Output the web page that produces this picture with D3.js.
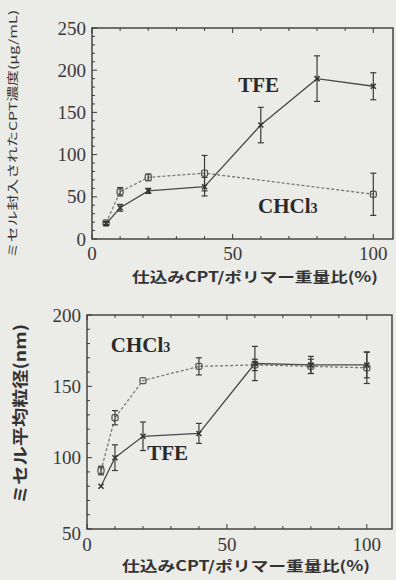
<!DOCTYPE html>
<html><head><meta charset="utf-8">
<script src="https://cdn.jsdelivr.net/npm/d3@7"></script>
<style>
html,body{margin:0;padding:0;background:#ebebe8;}
svg{display:block;}
</style></head>
<body>
<script>
const xValues = [5, 10, 20, 40, 60, 80, 100];
// Top chart: micelle-encapsulated CPT concentration (µg/mL)
const topTFE = [18, 37, 57, 62, 135, 190, 181];
const topTFEErr = [2, 4, 3, 11, 21, 27, 16];
const topCHClX = [5, 10, 20, 40, 100];
const topCHCl = [19, 56, 73, 78, 53];
const topCHClErr = [2, 5, 4, 21, 25];
// Bottom chart: mean micelle particle diameter (nm)
const botTFE = [80, 100, 115, 117, 166, 165, 165];
const botTFEErr = [1, 9, 10, 7, 12, 6, 9];
const botCHCl = [91, 128, 154, 164, 165, 164, 163];
const botCHClErr = [3, 5, 1, 6, 4, 5, 11];
const topYTicks = [0, 50, 100, 150, 200, 250];
const botYTicks = [50, 100, 150, 200];
const xTicks = [0, 50, 100];

const W = 396, H = 580;
const svg = d3.select("body").append("svg").attr("width", W).attr("height", H);
svg.append("rect").attr("width", W).attr("height", H).attr("fill", "#ebebe8");

const serif = "'Liberation Serif','DejaVu Serif',serif";
const gothic = "'Noto Sans CJK JP','Noto Sans',sans-serif";
const ink = "#3a3a3a";

function panel(cfg) {
  const x = d3.scaleLinear().domain([0, cfg.xMax]).range([cfg.left, cfg.right]);
  const y = d3.scaleLinear().domain(cfg.yDomain).range([cfg.bottom, cfg.top]);
  const g = svg.append("g");
  g.append("rect").attr("x", cfg.left).attr("y", cfg.top)
    .attr("width", cfg.right - cfg.left).attr("height", cfg.bottom - cfg.top)
    .attr("fill", "none").attr("stroke", ink).attr("stroke-width", 1.4);
  const xMinor = d3.range(0, cfg.xMax + 0.01, 10);
  xMinor.forEach(v => {
    const len = (v % 50 === 0) ? 5 : 3;
    g.append("line").attr("x1", x(v)).attr("x2", x(v)).attr("y1", cfg.bottom).attr("y2", cfg.bottom - len).attr("stroke", ink).attr("stroke-width", 1);
    g.append("line").attr("x1", x(v)).attr("x2", x(v)).attr("y1", cfg.top).attr("y2", cfg.top + len).attr("stroke", ink).attr("stroke-width", 1);
  });
  const yMinor = d3.range(cfg.yDomain[0], cfg.yDomain[1] + 0.01, 10);
  yMinor.forEach(v => {
    const len = (v % 50 === 0) ? 5 : 3;
    g.append("line").attr("x1", cfg.left).attr("x2", cfg.left + len).attr("y1", y(v)).attr("y2", y(v)).attr("stroke", ink).attr("stroke-width", 1);
  });
  g.selectAll(".yl").data(cfg.yTicks).join("text")
    .attr("x", cfg.left - 6).attr("y", d => y(d) + cfg.yLabelShift(d))
    .attr("text-anchor", "end").attr("dominant-baseline", "central")
    .attr("font-family", serif).attr("font-size", 19).attr("fill", ink).text(d => d);
  g.selectAll(".xl").data(xTicks).join("text")
    .attr("x", d => x(d)).attr("y", cfg.bottom + cfg.xLabelOffset)
    .attr("text-anchor", "middle").attr("dominant-baseline", "central")
    .attr("font-family", serif).attr("font-size", 19).attr("fill", ink).text(d => d);

  function series(xs, ys, errs, dashed, marker) {
    const pts = xs.map((v, i) => ({ x: v, y: ys[i], e: errs[i] }));
    const col = dashed ? "#7a7a7a" : "#4a4a4a";
    g.append("path").datum(pts)
      .attr("d", d3.line().x(d => x(d.x)).y(d => y(d.y)))
      .attr("fill", "none").attr("stroke", col).attr("stroke-width", 1.3)
      .attr("stroke-dasharray", dashed ? "3,2" : null);
    pts.forEach(p => {
      const cx = x(p.x), cy = y(p.y);
      if (p.e > 1.5) {
        g.append("line").attr("x1", cx).attr("x2", cx).attr("y1", y(p.y - p.e)).attr("y2", y(p.y + p.e)).attr("stroke", ink).attr("stroke-width", 1.2);
        [p.y - p.e, p.y + p.e].forEach(v => g.append("line").attr("x1", cx - 3).attr("x2", cx + 3).attr("y1", y(v)).attr("y2", y(v)).attr("stroke", ink).attr("stroke-width", 1.2));
      }
      if (marker === "x") {
        g.append("path").attr("d", `M${cx-2.5},${cy-2.5}L${cx+2.5},${cy+2.5}M${cx-2.5},${cy+2.5}L${cx+2.5},${cy-2.5}`).attr("stroke", "#333").attr("stroke-width", 1.5);
      } else {
        g.append("rect").attr("x", cx - 3).attr("y", cy - 3).attr("width", 6).attr("height", 6).attr("rx", 1.5)
          .attr("fill", "none").attr("stroke", "#555").attr("stroke-width", 1.3);
      }
    });
  }
  series(cfg.cX, cfg.cY, cfg.cE, true, "sq");
  series(xValues, cfg.tY, cfg.tE, false, "x");

  g.append("text").attr("x", x(cfg.tfeLabel[0])).attr("y", y(cfg.tfeLabel[1]))
    .attr("font-family", serif).attr("font-weight", "bold").attr("font-size", 21).attr("fill", "#2a2a2a")
    .attr("dominant-baseline", "central").text("TFE");
  const c = g.append("text").attr("x", x(cfg.chLabel[0])).attr("y", y(cfg.chLabel[1]))
    .attr("font-family", serif).attr("font-weight", "bold").attr("font-size", 21).attr("fill", "#2a2a2a")
    .attr("dominant-baseline", "central");
  c.append("tspan").text("CHCl");
  c.append("tspan").attr("font-size", 14).attr("dy", 2).text("3");

  svg.append("text").attr("x", cfg.xTitle[0]).attr("y", cfg.xTitle[1]).attr("text-anchor", "middle")
    .attr("font-family", gothic).attr("font-weight", "bold").attr("font-size", 14).attr("fill", "#333")
    .attr("textLength", cfg.xTitleLen).attr("lengthAdjust", "spacingAndGlyphs")
    .text("仕込みCPT/ポリマー重量比(%)");
  svg.append("text").attr("transform", `translate(${cfg.yTitle[0]},${cfg.yTitle[1]}) rotate(-90)`)
    .attr("text-anchor", "middle").attr("dominant-baseline", "central")
    .attr("font-family", gothic).attr("font-weight", cfg.yTitleWeight).attr("font-size", cfg.yTitleSize).attr("fill", "#333")
    .attr("textLength", cfg.yTitleLen).attr("lengthAdjust", "spacingAndGlyphs")
    .text(cfg.yTitleText);
}

panel({
  left: 92, right: 393, top: 28, bottom: 239, xMax: 107,
  yDomain: [0, 250], yTicks: topYTicks, yLabelShift: d => 0, xLabelOffset: 14,
  cX: topCHClX, cY: topCHCl, cE: topCHClErr, tY: topTFE, tE: topTFEErr,
  tfeLabel: [52, 183], chLabel: [59, 39],
  xTitle: [255, 282], xTitleLen: 246,
  yTitle: [12, 134], yTitleLen: 248, yTitleSize: 11, yTitleWeight: "normal",
  yTitleText: "ミセル封入されたCPT濃度(μg/mL)"
});
panel({
  left: 87, right: 392, top: 315, bottom: 529, xMax: 109,
  yDomain: [50, 200], yTicks: botYTicks, yLabelShift: d => d === 50 ? 4 : 0, xLabelOffset: 15,
  cX: xValues, cY: botCHCl, cE: botCHClErr, tY: botTFE, tE: botTFEErr,
  tfeLabel: [21.5, 103], chLabel: [8.5, 179],
  xTitle: [246, 571], xTitleLen: 248,
  yTitle: [19, 414], yTitleLen: 180, yTitleSize: 16, yTitleWeight: "bold",
  yTitleText: "ミセル平均粒径(nm)"
});
</script>
</body></html>
